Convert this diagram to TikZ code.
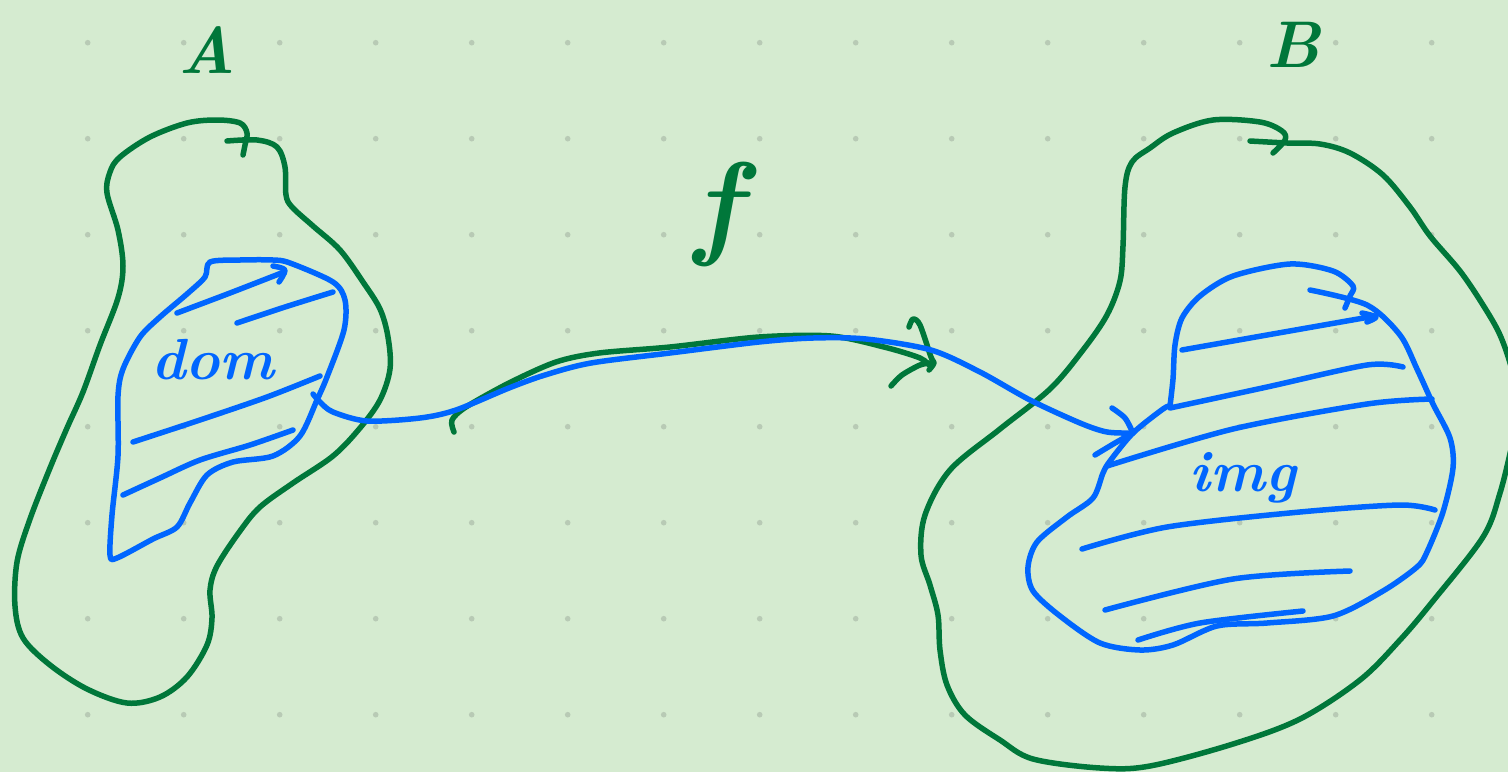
\documentclass[tikz,border=0pt]{standalone}
\usepackage{fontspec}
\definecolor{bgc}{RGB}{213,235,208}
\definecolor{dotc}{RGB}{184,202,181}
\definecolor{grn}{RGB}{0,119,58}
\definecolor{blu}{RGB}{0,102,255}
\tikzset{
  gr/.style={draw=grn, line width=5.5pt, line cap=round, line join=round},
  bl/.style={draw=blu, line width=5.5pt, line cap=round, line join=round},
  glabel/.style={text=grn, font=\fontsize{66}{66}\selectfont\bfseries\itshape, inner sep=0pt},
  blabel/.style={text=blu, font=\fontsize{58}{58}\selectfont\bfseries\itshape, inner sep=0pt}
}
\begin{document}
\begin{tikzpicture}[x=1pt,y=-1pt]
\useasboundingbox (0,0) rectangle (1508,772);
\clip (0,0) rectangle (1508,772);
\fill[bgc] (0,0) rectangle (1508,772);
\foreach \i in {0,...,14}{
  \foreach \j in {0,...,7}{
    \fill[dotc] ({87.7+96*\i},{42.7+96*\j}) circle (2.8);
  }
}
% labels
\node[glabel] (la) at (207,50) {A};
\node[glabel] (lb) at (1293,45) {B};
\node[glabel, font=\fontsize{116}{116}\selectfont\bfseries\itshape] (lf) at (718,214) {f};
\node[blabel] (ldom) at (213,360) {dom};
\node[blabel] (limg) at (1243,478) {img};
% set A
\draw[gr] plot[smooth, tension=0.55] coordinates {
 (227,141) (257,140) (277,147) (285,167) (286,195) (292,207) (313,226) (340,250)
 (363,282) (380,309) (388,337) (390,369) (380,400) (360,428) (333,456) (293,483)
 (260,507) (240,531) (217,566) (210,590) (212,618) (207,645) (187,677) (160,697)
 (127,703) (87,689) (50,665) (23,638) (15,606) (17,562) (30,519) (50,468) (67,428)
 (83,392) (100,345) (118,298) (123,266) (118,230) (107,193) (110,172) (120,157)
 (150,137) (187,123) (217,120) (240,123) (247,133) (245,145) (243,155)};
% dom region
\draw[bl] plot[smooth cycle, tension=0.5] coordinates {
 (210,262) (240,260) (273,260) (290,263) (333,282) (345,300) (344,330) (327,377)
 (317,400) (300,436) (273,456) (233,462) (207,475) (190,503) (177,527) (153,539)
 (117,558) (110,555) (112,515) (118,456) (118,396) (123,369) (140,337) (160,317)
 (187,294) (205,277)};
\draw[bl] plot[smooth, tension=0.5] coordinates {(177,313) (230,293) (284,272)};
\draw[bl] plot[smooth, tension=0.5] coordinates {(273,266) (285,270) (279,282)};
\draw[bl] plot[smooth, tension=0.5] coordinates {(237,323) (285,307) (333,292)};
\draw[bl] plot[smooth, tension=0.5] coordinates {(133,442) (200,420) (267,397) (320,376)};
\draw[bl] plot[smooth, tension=0.5] coordinates {(123,495) (160,478) (200,460) (250,445) (293,430)};
% set B
\draw[gr] plot[smooth, tension=0.55] coordinates {
 (1250,141) (1287,143) (1320,144) (1350,153) (1383,175) (1410,207) (1430,236)
 (1460,271) (1483,305) (1500,335) (1512,370) (1520,410) (1512,445) (1500,493)
 (1483,537) (1433,601) (1400,640) (1360,680) (1300,719) (1233,744) (1150,766)
 (1100,768) (1033,759) (1000,740) (965,715) (947,685) (940,650) (938,615)
 (930,585) (921,555) (925,515) (950,470) (1000,429) (1050,389) (1083,350)
 (1107,315) (1120,281) (1123,246) (1125,187) (1132,162) (1150,148) (1173,133)
 (1213,120) (1260,122) (1282,131) (1285,140) (1273,153)};
% img region
\draw[bl] plot[smooth, tension=0.5] coordinates {
 (1170,406) (1173,379) (1175,345) (1182,318) (1200,296) (1233,276) (1290,264)
 (1333,271) (1353,286) (1350,296) (1345,308)};
\draw[bl] plot[smooth, tension=0.5] coordinates {
 (1310,290) (1367,305) (1400,335) (1417,369) (1433,404) (1450,438) (1453,468)
 (1443,512) (1427,552) (1417,567) (1383,591) (1333,616) (1267,623) (1217,626)
 (1173,645) (1140,650) (1100,643) (1060,616) (1033,591) (1028,567) (1037,542)
 (1067,517) (1093,498) (1103,473) (1110,461) (1133,433) (1163,409) (1170,406)};
\draw[bl] plot[smooth, tension=0.5] coordinates {(1182,350) (1267,335) (1375,316)};
\draw[bl] plot[smooth, tension=0.5] coordinates {(1362,313) (1376,317) (1367,322)};
\draw[bl] plot[smooth, tension=0.5] coordinates {(1170,408) (1267,387) (1367,365) (1403,367)};
\draw[bl] plot[smooth, tension=0.5] coordinates {(1107,466) (1233,429) (1367,404) (1432,399)};
\draw[bl] plot[smooth, tension=0.5] coordinates {(1082,549) (1167,527) (1300,512) (1400,505) (1435,510)};
\draw[bl] plot[smooth, tension=0.5] coordinates {(1105,610) (1233,579) (1350,571)};
\draw[bl] plot[smooth, tension=0.5] coordinates {(1138,640) (1200,623) (1303,611)};
% green arrow f
\draw[gr] plot[smooth, tension=0.5] coordinates {
 (454,432) (452,420) (466,407) (509,383) (556,362) (599,353) (670,347) (759,337)
 (831,336) (884,347) (920,358) (931,367)};
\draw[gr] plot[smooth, tension=0.5] coordinates {(909,327) (913,319) (920,325) (931,357) (934,363) (929,370)};
\draw[gr] plot[smooth, tension=0.5] coordinates {(891,386) (902,375) (920,365) (931,363)};
% blue arrow
\draw[bl] plot[smooth, tension=0.5] coordinates {
 (313,394) (320,402) (333,412) (367,421) (420,418) (456,410) (509,388) (545,375)
 (591,363) (670,353) (759,342) (813,338) (866,339) (931,350) (980,372) (1030,400)
 (1080,423) (1107,432) (1133,433)};
\draw[bl] plot[smooth, tension=0.5] coordinates {(1112,408) (1125,418) (1133,433)};
\draw[bl] plot[smooth, tension=0.5] coordinates {(1095,455) (1115,443) (1133,433)};
\end{tikzpicture}
\end{document}
